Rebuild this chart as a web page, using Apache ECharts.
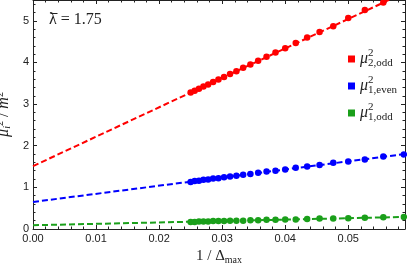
<!DOCTYPE html>
<html><head><meta charset="utf-8">
<script src="https://cdn.jsdelivr.net/npm/echarts@6/dist/echarts.min.js"></script>
<style>html,body{margin:0;padding:0;background:#fff}#c{width:407px;height:269px}</style>
</head><body><div id="c"></div>
<script>
// 1/Δmax values (Δmax = 40 ... 17)
const xPts = [0.02500, 0.02564, 0.02632, 0.02703, 0.02778, 0.02857, 0.02941, 0.03030, 0.03125, 0.03226, 0.03333, 0.03448, 0.03571, 0.03704, 0.03846, 0.04000, 0.04167, 0.04348, 0.04545, 0.04762, 0.05000, 0.05263, 0.05556, 0.05882];
const red2odd = [3.28, 3.32, 3.37, 3.42, 3.47, 3.53, 3.59, 3.65, 3.72, 3.79, 3.87, 3.95, 4.04, 4.14, 4.24, 4.34, 4.47, 4.60, 4.73, 4.87, 5.07, 5.26, 5.44];
const blue1even = [1.13, 1.15, 1.16, 1.18, 1.19, 1.21, 1.22, 1.24, 1.26, 1.28, 1.30, 1.32, 1.35, 1.38, 1.40, 1.43, 1.47, 1.50, 1.54, 1.59, 1.62, 1.67, 1.74, 1.79];
const green1odd = [0.17, 0.17, 0.18, 0.18, 0.18, 0.19, 0.19, 0.19, 0.20, 0.20, 0.20, 0.21, 0.21, 0.22, 0.22, 0.23, 0.23, 0.24, 0.25, 0.25, 0.26, 0.27, 0.28, 0.29];
// linear fits (endpoints)
const fitX = [0, 0.059];
const redFit = [1.51, 5.68];
const blueFit = [0.65, 1.80];
const greenFit = [0.09, 0.29];
const xTickStep = 0.01, xMax = 0.059;
const yTickStep = 1, yMax = 5.5;

const pairs = (xs, ys) => ys.map((y, i) => [xs[i], y]);
const serif = 'Liberation Serif';
const frame = '#222';
const txt = '#222';

const rich = {
  mu: {fontFamily: serif, fontStyle: 'italic', fontSize: 16, color: txt},
  sup: {fontFamily: serif, fontSize: 11, color: txt, padding: [0, 0, 11, 0], width: 0},
  sub: {fontFamily: serif, fontSize: 11, color: txt, padding: [8, 0, 0, 0]}
};
const legendNames = {
  'r': '{mu|μ}{sup|2}{sub|2,odd}',
  'b': '{mu|μ}{sup|2}{sub|1,even}',
  'g': '{mu|μ}{sup|2}{sub|1,odd}'
};

function xAx(pos) {
  return {
    type: 'value', min: 0, max: xMax, interval: xTickStep, position: pos,
    axisLine: {show: true, onZero: false, lineStyle: {color: frame, width: 1}},
    axisTick: {show: true, inside: true, length: 4, lineStyle: {color: frame}},
    minorTick: {show: true, splitNumber: 5, length: 2.5, lineStyle: {color: frame}},
    splitLine: {show: false}, minorSplitLine: {show: false},
    axisLabel: pos === 'bottom' ? {formatter: v => v.toFixed(2), showMaxLabel: false, color: txt, fontSize: 11, fontFamily: 'Liberation Sans', margin: 4} : {show: false}
  };
}
function yAx(pos) {
  return {
    type: 'value', min: 0, max: yMax, interval: yTickStep, position: pos,
    axisLine: {show: true, onZero: false, lineStyle: {color: frame, width: 1}},
    axisTick: {show: true, inside: true, length: 4, lineStyle: {color: frame}},
    minorTick: {show: true, splitNumber: 5, length: 2.5, lineStyle: {color: frame}},
    splitLine: {show: false}, minorSplitLine: {show: false},
    axisLabel: pos === 'left' ? {showMaxLabel: false, color: txt, fontSize: 11, fontFamily: 'Liberation Sans', margin: 4} : {show: false}
  };
}
const xa = [xAx('bottom'), xAx('top')];
xa[0].name = '{a|1 / Δ}{s|max}';
xa[0].nameLocation = 'middle';
xa[0].nameGap = 17;
xa[0].nameTextStyle = {rich: {
  a: {fontFamily: serif, fontSize: 15, color: txt},
  s: {fontFamily: serif, fontSize: 10, color: txt, padding: [7, 0, 0, 0]}
}};
const ya = [yAx('left'), yAx('right')];
ya[0].name = '{mu|μ}{sub|i}{sup|2}{t| / }{m|m}{sup|2}';
ya[0].nameLocation = 'middle';
ya[0].nameGap = 14;
ya[0].nameRotate = 90;
ya[0].nameTextStyle = {rich: {
  mu: {fontFamily: serif, fontStyle: 'italic', fontSize: 16, color: txt},
  sup: {fontFamily: serif, fontSize: 10, color: txt, padding: [0, 0, 8, 0]},
  sub: {fontFamily: serif, fontStyle: 'italic', fontSize: 10, color: txt, padding: [6, 0, 0, 0]},
  t: {fontFamily: serif, fontSize: 16, color: txt},
  m: {fontFamily: serif, fontStyle: 'italic', fontSize: 16, color: txt}
}};

const dash = [6, 3];
function fitSeries(ys, c) {
  return {type: 'line', data: pairs(fitX, ys), symbol: 'none', silent: true, clip: true,
    lineStyle: {color: c, width: 2, type: dash}, z: 2, legendHoverLink: false};
}
function ptSeries(name, ys, c) {
  return {type: 'scatter', name: name, data: pairs(xPts, ys), symbolSize: 6.5, clip: true,
    itemStyle: {color: c, opacity: 1}, z: 3};
}
const RED = '#ff0000', BLUE = '#0000ff', GREEN = '#1a9f1a';

const chart = echarts.init(document.getElementById('c'), null, {renderer: 'canvas'});
chart.setOption({
  animation: false,
  backgroundColor: '#fff',
  grid: {left: 33, right: 2, top: 0, bottom: 40, outerBoundsMode: 'none'},
  title: {text: 'λ = 1.75', left: 49, top: 12, padding: 0,
    textStyle: {fontFamily: serif, fontSize: 16, fontWeight: 'normal', color: txt}},
  graphic: [{type: 'line', shape: {x1: 50.5, y1: 13.5, x2: 57.5, y2: 13.5}, style: {stroke: txt, lineWidth: 1}, silent: true}],
  legend: {orient: 'vertical', left: 343, top: 43, itemWidth: 7, itemHeight: 7, itemGap: 6,
    icon: 'rect', data: ['r', 'b', 'g'],
    formatter: n => legendNames[n],
    textStyle: {rich: rich, height: 20, lineHeight: 20}},
  xAxis: xa,
  yAxis: ya,
  series: [
    fitSeries(redFit, RED), fitSeries(blueFit, BLUE), fitSeries(greenFit, GREEN),
    ptSeries('r', red2odd, RED), ptSeries('b', blue1even, BLUE), ptSeries('g', green1odd, GREEN)
  ]
});
</script></body></html>
